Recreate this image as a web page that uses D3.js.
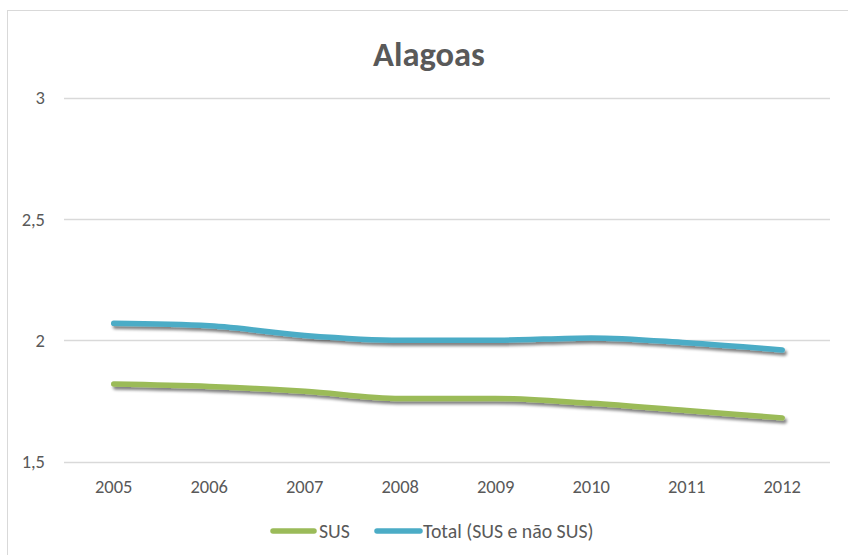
<!DOCTYPE html>
<html>
<head>
<meta charset="utf-8">
<script src="https://cdn.jsdelivr.net/npm/d3@7/dist/d3.min.js"></script>
<style>
html,body{margin:0;padding:0;background:#fff;}
svg{display:block;}
text{font-family:Carlito,"Open Sans","Liberation Sans",sans-serif;}
</style>
</head>
<body>
<script>
const title = "Alagoas";
const years = ["2005","2006","2007","2008","2009","2010","2011","2012"];
const susValues = [1.82,1.81,1.79,1.76,1.76,1.74,1.71,1.68];
const totalValues = [2.07,2.06,2.02,2.00,2.00,2.01,1.99,1.96];
const yTicks = [1.5,2,2.5,3];
const seriesNames = ["SUS","Total (SUS e não SUS)"];
const seriesColors = ["#9BBB59","#4BACC6"];

const W = 848, H = 555;
const svg = d3.select("body").append("svg").attr("width",W).attr("height",H);

svg.append("rect").attr("x",7.5).attr("y",10.5).attr("width",W).attr("height",H)
  .attr("fill","#fff").attr("stroke","#d9d9d9").attr("stroke-width",1);

const defs = svg.append("defs");
const f = defs.append("filter").attr("id","shadow").attr("x","-10%").attr("y","-50%").attr("width","120%").attr("height","200%");
f.append("feGaussianBlur").attr("in","SourceAlpha").attr("stdDeviation",1.8).attr("result","b");
f.append("feOffset").attr("in","b").attr("dx",2).attr("dy",3).attr("result","o");
f.append("feComponentTransfer").attr("in","o").attr("result","s")
  .append("feFuncA").attr("type","linear").attr("slope",0.5);
const m = f.append("feMerge");
m.append("feMergeNode").attr("in","s");
m.append("feMergeNode").attr("in","SourceGraphic");

const plot = {left:66, right:830, top:98, bottom:461.5};
const x = d3.scaleBand().domain(years).range([plot.left, plot.right]);
const y = d3.scaleLinear().domain([1.5,3]).range([plot.bottom, plot.top]);

svg.append("g").selectAll("line").data(yTicks).join("line")
  .attr("x1",plot.left-2).attr("x2",plot.right)
  .attr("y1",d=>Math.round(y(d))+0.5).attr("y2",d=>Math.round(y(d))+0.5)
  .attr("stroke","#d9d9d9").attr("stroke-width",1.5);

const fmt = d => String(d).replace(".",",");
svg.append("g").selectAll("text").data(yTicks).join("text")
  .attr("x",45).attr("y",d=>y(d)).attr("dy","0.35em")
  .attr("text-anchor","end").attr("fill","#595959").attr("font-size",18.5)
  .text(fmt);

svg.append("g").selectAll("text").data(years).join("text")
  .attr("x",d=>x(d)+x.bandwidth()/2).attr("y",487).attr("dy","0.35em")
  .attr("text-anchor","middle").attr("fill","#595959").attr("font-size",18.5)
  .text(d=>d);

svg.append("text").attr("x",429).attr("y",54).attr("dy","0.35em")
  .attr("text-anchor","middle").attr("fill","#595959")
  .attr("font-size",34.5).attr("font-weight","bold").text(title);

const line = d3.line()
  .x((d,i)=>x(years[i])+x.bandwidth()/2)
  .y(d=>y(d))
  .curve(d3.curveMonotoneX);

[susValues,totalValues].forEach((vals,k)=>{
  svg.append("path").datum(vals)
    .attr("d",line).attr("fill","none")
    .attr("stroke",seriesColors[k]).attr("stroke-width",5.5)
    .attr("stroke-linecap","round").attr("stroke-linejoin","round")
    .attr("filter","url(#shadow)");
});

const legendItems = [
  {name:seriesNames[0], color:seriesColors[0], x1:273, x2:314, tx:319},
  {name:seriesNames[1], color:seriesColors[1], x1:377, x2:420, tx:423}
];
const lg = svg.append("g");
legendItems.forEach(it=>{
  lg.append("line").attr("x1",it.x1).attr("x2",it.x2).attr("y1",531).attr("y2",531)
    .attr("stroke",it.color).attr("stroke-width",5.5).attr("stroke-linecap","round");
  lg.append("text").attr("x",it.tx).attr("y",531).attr("dy","0.35em")
    .attr("fill","#595959").attr("font-size",19.8).text(it.name);
});
</script>
</body>
</html>
